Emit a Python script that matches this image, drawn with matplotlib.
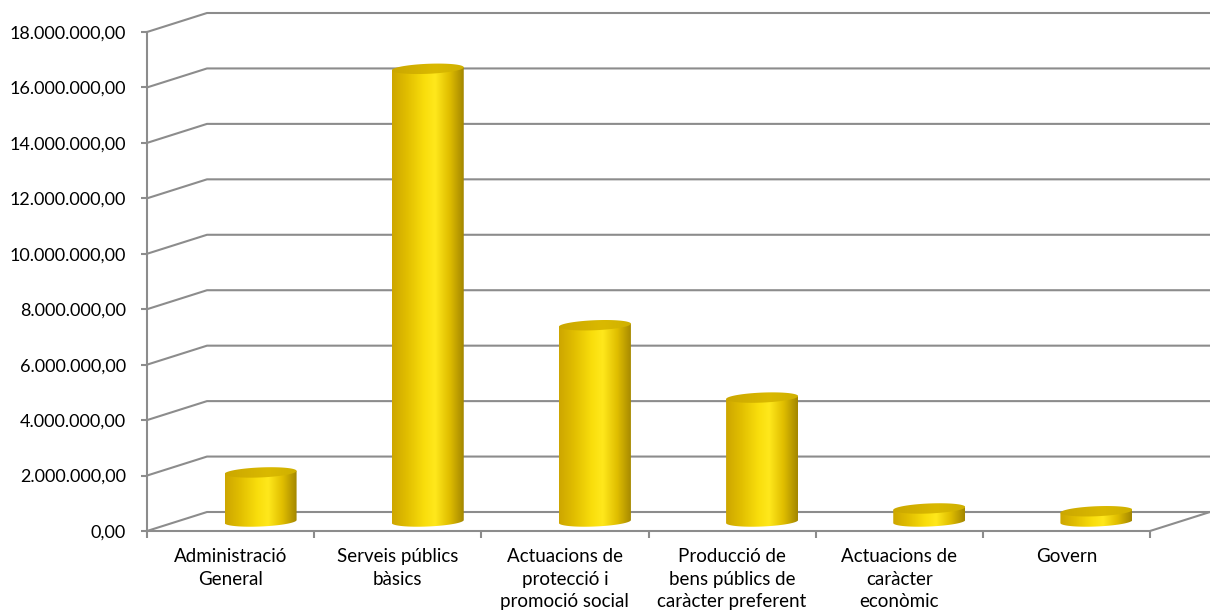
import numpy as np
import matplotlib
matplotlib.use("Agg")
import matplotlib.pyplot as plt
from matplotlib.patches import Polygon
from matplotlib.colors import LinearSegmentedColormap
from matplotlib.ticker import FuncFormatter

categories = ["Administració\nGeneral", "Serveis públics\nbàsics",
              "Actuacions de\nprotecció i\npromoció social",
              "Producció de\nbens públics de\ncaràcter preferent",
              "Actuacions de\ncaràcter\neconòmic", "Govern"]
values = [1.77e6, 16.33e6, 7.08e6, 4.47e6, 0.47e6, 0.37e6]
yticks = np.arange(0, 18.0e6 + 1, 2.0e6)

plt.rcParams['font.family'] = ['Lato', 'DejaVu Sans']
GRID = '#8c8c8c'

fig = plt.figure(figsize=(12.10, 6.14), dpi=100)
W, H = 1210, 614
ax = fig.add_axes([147 / W, 83 / H, 1063 / W, 519 / H])

n = len(categories)
pxu = 1003 / n            # pixels per category unit
pxv = 499 / 18.0e6        # pixels per value unit
d = 60 / pxu              # depth offset (x)
dy = 19 / pxv             # depth offset (y)

ax.set_xlim(-0.5, n - 0.5 + d)
ax.set_ylim(0, 519 / pxv)

# back wall gridlines with side diagonals
for v in yticks:
    ax.plot([-0.5, -0.5 + d, n - 0.5 + d], [v, v + dy, v + dy],
            color=GRID, lw=1.5, zorder=1, solid_capstyle='butt', clip_on=False)
# floor right edge
ax.plot([n - 0.5, n - 0.5 + d], [0, dy], color=GRID, lw=1.5, zorder=1, clip_on=False)

# cylinder colors
body_cmap = LinearSegmentedColormap.from_list('body', [
    (0.0, '#cda600'), (0.2, '#e0bd00'), (0.45, '#f9de0c'), (0.6, '#ffe81c'),
    (0.8, '#e0be00'), (1.0, '#a38600')])
top_cmap = LinearSegmentedColormap.from_list('top', [
    (0.0, '#cba700'), (0.6, '#dab900'), (1.0, '#cfb000')])

w = 72 / pxu
eh = 5 / pxv
sh = 1.5 / pxv
t = np.linspace(0, 2 * np.pi, 121)
grad = np.linspace(0, 1, 256).reshape(1, -1)

for i, v in enumerate(values):
    cx = i + d / 2
    b = dy / 2
    top = b + v
    tb = np.linspace(0, -np.pi, 60)
    bx = cx + (w / 2) * np.cos(tb)
    by = b + eh * np.sin(tb) + sh * np.cos(tb)
    pts = [(cx + w / 2, top + sh)] + list(zip(bx, by)) + [(cx - w / 2, top - sh)]
    body = Polygon(pts, closed=True, facecolor='none', edgecolor='none')
    ax.add_patch(body)
    im = ax.imshow(grad, cmap=body_cmap, aspect='auto', zorder=3,
                   extent=[cx - w / 2, cx + w / 2, b - eh - sh, top + sh],
                   interpolation='bilinear')
    im.set_clip_path(body)
    ex = cx + (w / 2) * np.cos(t)
    ey = top + eh * np.sin(t) + sh * np.cos(t)
    topp = Polygon(list(zip(ex, ey)), closed=True, facecolor='none', edgecolor='none')
    ax.add_patch(topp)
    im2 = ax.imshow(grad, cmap=top_cmap, aspect='auto', zorder=4,
                    extent=[cx - w / 2, cx + w / 2, top - eh - sh, top + eh + sh],
                    interpolation='bilinear')
    im2.set_clip_path(topp)

ax.set_xlim(-0.5, n - 0.5 + d)
ax.set_ylim(0, 519 / pxv)

for s in ['top', 'right']:
    ax.spines[s].set_visible(False)
for s in ['left', 'bottom']:
    ax.spines[s].set_color(GRID)
    ax.spines[s].set_linewidth(1.5)
ax.spines['left'].set_bounds(0, 18.0e6)
ax.spines['bottom'].set_bounds(-0.5, n - 0.5)

ax.set_yticks(yticks)
ax.yaxis.set_major_formatter(FuncFormatter(
    lambda x, p: f"{x:,.2f}".replace(',', 'X').replace('.', ',').replace('X', '.')))
ax.tick_params(axis='y', length=4, width=1.5, color=GRID, pad=11, labelsize=13,
               labelcolor='black')

ax.set_xticks(np.arange(-0.5, n, 1.0))
ax.set_xticklabels([])
ax.set_xticks(np.arange(n), minor=True)
ax.set_xticklabels(categories, minor=True, fontsize=13.5, linespacing=1.42)
ax.tick_params(axis='x', which='major', length=5, width=1.5, color=GRID, direction='out')
ax.tick_params(axis='x', which='minor', length=0, pad=12)

fig.savefig('out.png', dpi=100)
